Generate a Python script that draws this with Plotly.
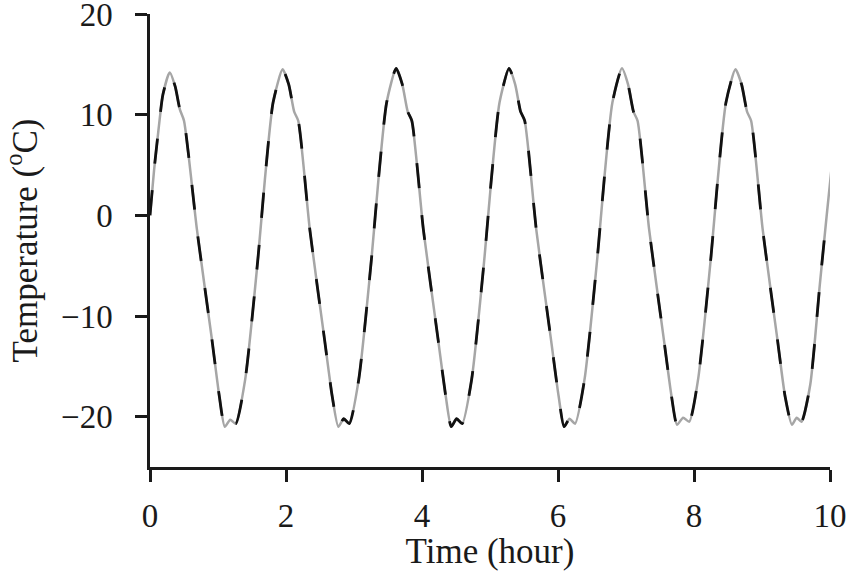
import plotly.graph_objects as go

# time (hour) and temperature (oC)
time_h = [0.00, 0.06, 0.12, 0.19, 0.29, 0.37, 0.44, 0.50, 0.69, 0.91, 1.02, 1.10, 1.18, 1.26,
          1.40, 1.59, 1.69, 1.81, 1.95, 2.04, 2.12, 2.18, 2.35, 2.57, 2.68, 2.77, 2.85, 2.93,
          3.07, 3.26, 3.36, 3.48, 3.62, 3.71, 3.79, 3.85, 4.02, 4.24, 4.35, 4.43, 4.51, 4.59,
          4.73, 4.92, 5.02, 5.14, 5.28, 5.37, 5.45, 5.51, 5.68, 5.90, 6.01, 6.09, 6.17, 6.25,
          6.39, 6.58, 6.68, 6.80, 6.94, 7.03, 7.11, 7.17, 7.34, 7.56, 7.67, 7.75, 7.84, 7.93,
          8.06, 8.25, 8.35, 8.47, 8.61, 8.70, 8.78, 8.84, 9.01, 9.23, 9.34, 9.44, 9.51, 9.58,
          9.71, 9.85, 9.95, 10.02]

temp_gray = [0.0, 4.5, 8.2, 12.0, 14.2, 12.8, 10.5, 9.4, -1.4, -12.3, -18.0, -21.0, -20.3, -20.7,
             -16.3, -4.1, 3.6, 11.2, 14.5, 13.0, 10.3, 9.4, -1.4, -12.5, -18.0, -21.0, -20.2, -20.7,
             -16.3, -4.1, 3.6, 11.2, 14.6, 13.0, 10.3, 9.4, -1.4, -12.5, -18.0, -21.0, -20.2, -20.7,
             -16.3, -4.1, 3.6, 11.2, 14.6, 13.0, 10.3, 9.4, -1.4, -12.5, -18.0, -21.0, -20.2, -20.7,
             -16.3, -4.1, 3.6, 11.2, 14.6, 13.0, 10.3, 9.4, -1.4, -12.5, -18.0, -20.8, -20.1, -20.5,
             -16.3, -4.1, 3.6, 11.2, 14.5, 13.0, 10.3, 9.4, -1.4, -12.5, -18.0, -20.8, -20.1, -20.5,
             -16.8, -6.9, -0.1, 4.5]

# dashed black series ends just before 10 h
time_black = time_h[:-1]
temp_black = temp_gray[:-1]

fig = go.Figure()
fig.add_trace(go.Scatter(x=time_h, y=temp_gray, mode='lines',
                         line=dict(color='#a6a6a6', width=2.5, shape='spline', smoothing=0.6),
                         showlegend=False))
fig.add_trace(go.Scatter(x=time_black, y=temp_black, mode='lines',
                         line=dict(color='#111111', width=2.8, shape='spline', smoothing=0.6,
                                   dash='25px,27px'),
                         showlegend=False))

tick_font = dict(family='Liberation Serif', size=33, color='#1a1a1a')
title_font = dict(family='Liberation Serif', size=35, color='#1a1a1a')
fig.update_layout(width=850, height=571, margin=dict(l=150, r=20, t=14, b=104),
                  plot_bgcolor='white', paper_bgcolor='white', font=tick_font)
fig.update_xaxes(range=[0, 10], tickvals=[0, 2, 4, 6, 8, 10], showgrid=False, zeroline=False,
                 showline=True, linecolor='#1a1a1a', linewidth=2.5, automargin=False,
                 ticks='outside', ticklen=12, tickwidth=2.5, tickcolor='#1a1a1a',
                 ticklabelstandoff=6, ticklabeloverflow='allow',
                 title=dict(text='Time (hour)', standoff=0, font=title_font), tickfont=tick_font)
fig.update_yaxes(range=[-25, 20], tickvals=[-20, -10, 0, 10, 20],
                 ticktext=['\u221220', '\u221210', '0', '10', '20'],
                 showgrid=False, zeroline=False, automargin=False,
                 showline=True, linecolor='#1a1a1a', linewidth=2.5,
                 ticks='outside', ticklen=12, tickwidth=2.5, tickcolor='#1a1a1a',
                 ticklabelstandoff=16, ticklabeloverflow='allow',
                 title=dict(text='Temperature (<sup>o</sup>C)', standoff=34, font=title_font),
                 tickfont=tick_font)

# drop the default page margin so the figure sits at the window corner
fig.write_html("out.html", config={'displayModeBar': False},
               post_script="document.body.style.margin='0px';")
